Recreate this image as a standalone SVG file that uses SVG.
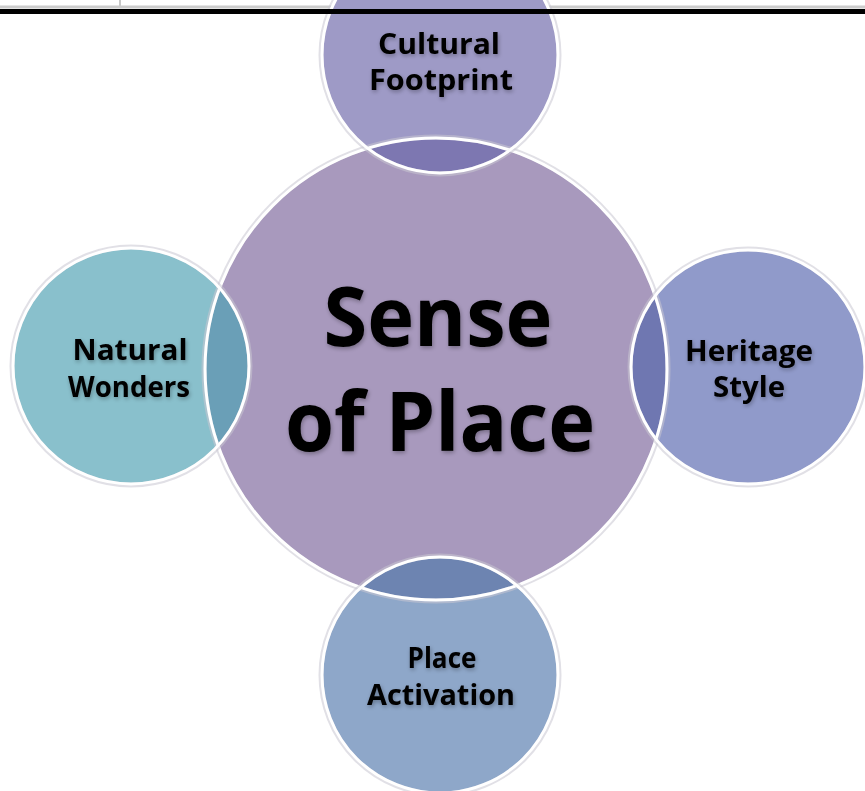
<svg xmlns="http://www.w3.org/2000/svg" width="865" height="791" viewBox="0 0 865 791">
  <style>
    .lbl { font-family: "Open Sans", "Liberation Sans", sans-serif; font-weight: 700; fill: #000; text-anchor: middle; }
    .sat { font-size: 29px; }
    .main { font-size: 82px; }
    .ring { fill: none; stroke: #ffffff; stroke-width: 3; }
    .halo { fill: none; stroke: #c9c6d2; stroke-width: 5; opacity: 0.55; }
  </style>
  <defs>
    <clipPath id="clipCenter">
      <circle cx="436" cy="369" r="231"/>
    </clipPath>
    <filter id="tshadow" x="-10%" y="-10%" width="120%" height="130%">
      <feGaussianBlur in="SourceAlpha" stdDeviation="2"/>
      <feOffset dx="1" dy="2" result="b"/>
      <feComponentTransfer><feFuncA type="linear" slope="0.3"/></feComponentTransfer>
      <feMerge><feMergeNode/><feMergeNode in="SourceGraphic"/></feMerge>
    </filter>
  </defs>
  <rect width="865" height="791" fill="#ffffff"/>

  <g id="table-edge">
    <line x1="120" y1="0" x2="120" y2="7" stroke="#c8c8c8" stroke-width="2"/>
    <line x1="360" y1="0" x2="360" y2="7" stroke="#c8c8c8" stroke-width="2"/>
    <line x1="0" y1="7" x2="865" y2="7" stroke="#cccccc" stroke-width="3"/>
  </g>

  <g id="connectors"/>

  <g id="sense-of-place">
    <circle cx="436" cy="369" r="231" fill="#a899bd"/>
  </g>

  <g id="cultural-footprint">
    <circle cx="440" cy="55" r="118" fill="#9e9ac6"/>
    <circle cx="440" cy="55" r="118" fill="#7d77b1" clip-path="url(#clipCenter)"/>
  </g>
  <g id="natural-wonders">
    <circle cx="131" cy="366" r="118" fill="#89c0cc"/>
    <circle cx="131" cy="366" r="118" fill="#6a9fb7" clip-path="url(#clipCenter)"/>
  </g>
  <g id="heritage-style">
    <circle cx="748" cy="367" r="117" fill="#909aca"/>
    <circle cx="748" cy="367" r="117" fill="#6f77b1" clip-path="url(#clipCenter)"/>
  </g>
  <g id="place-activation">
    <circle cx="440" cy="675" r="118" fill="#8ea7c9"/>
    <circle cx="440" cy="675" r="118" fill="#6d84b1" clip-path="url(#clipCenter)"/>
  </g>

  <g id="outlines">
    <circle class="halo" cx="436" cy="369" r="232"/>
    <circle class="ring" cx="436" cy="369" r="231"/>
    <circle class="halo" cx="440" cy="55" r="119"/>
    <circle class="ring" cx="440" cy="55" r="118"/>
    <circle class="halo" cx="131" cy="366" r="119"/>
    <circle class="ring" cx="131" cy="366" r="118"/>
    <circle class="halo" cx="748" cy="367" r="118"/>
    <circle class="ring" cx="748" cy="367" r="117"/>
    <circle class="halo" cx="440" cy="675" r="119"/>
    <circle class="ring" cx="440" cy="675" r="118"/>
  </g>

  <rect x="0" y="9" width="865" height="5" fill="#000000"/>

  <g id="labels" filter="url(#tshadow)">
    <text class="lbl main" x="438" y="346" textLength="229" lengthAdjust="spacingAndGlyphs">Sense</text>
    <text class="lbl main" x="440" y="451" textLength="310" lengthAdjust="spacingAndGlyphs">of Place</text>
    <text class="lbl sat" x="439" y="54" textLength="122" lengthAdjust="spacingAndGlyphs">Cultural</text>
    <text class="lbl sat" x="441" y="90" textLength="144" lengthAdjust="spacingAndGlyphs">Footprint</text>
    <text class="lbl sat" x="130" y="360" textLength="115" lengthAdjust="spacingAndGlyphs">Natural</text>
    <text class="lbl sat" x="129" y="397" textLength="122" lengthAdjust="spacingAndGlyphs">Wonders</text>
    <text class="lbl sat" x="749" y="361" textLength="128" lengthAdjust="spacingAndGlyphs">Heritage</text>
    <text class="lbl sat" x="749" y="397" textLength="72" lengthAdjust="spacingAndGlyphs">Style</text>
    <text class="lbl sat" x="442" y="668" textLength="69" lengthAdjust="spacingAndGlyphs">Place</text>
    <text class="lbl sat" x="441" y="705" textLength="148" lengthAdjust="spacingAndGlyphs">Activation</text>
  </g>
</svg>
